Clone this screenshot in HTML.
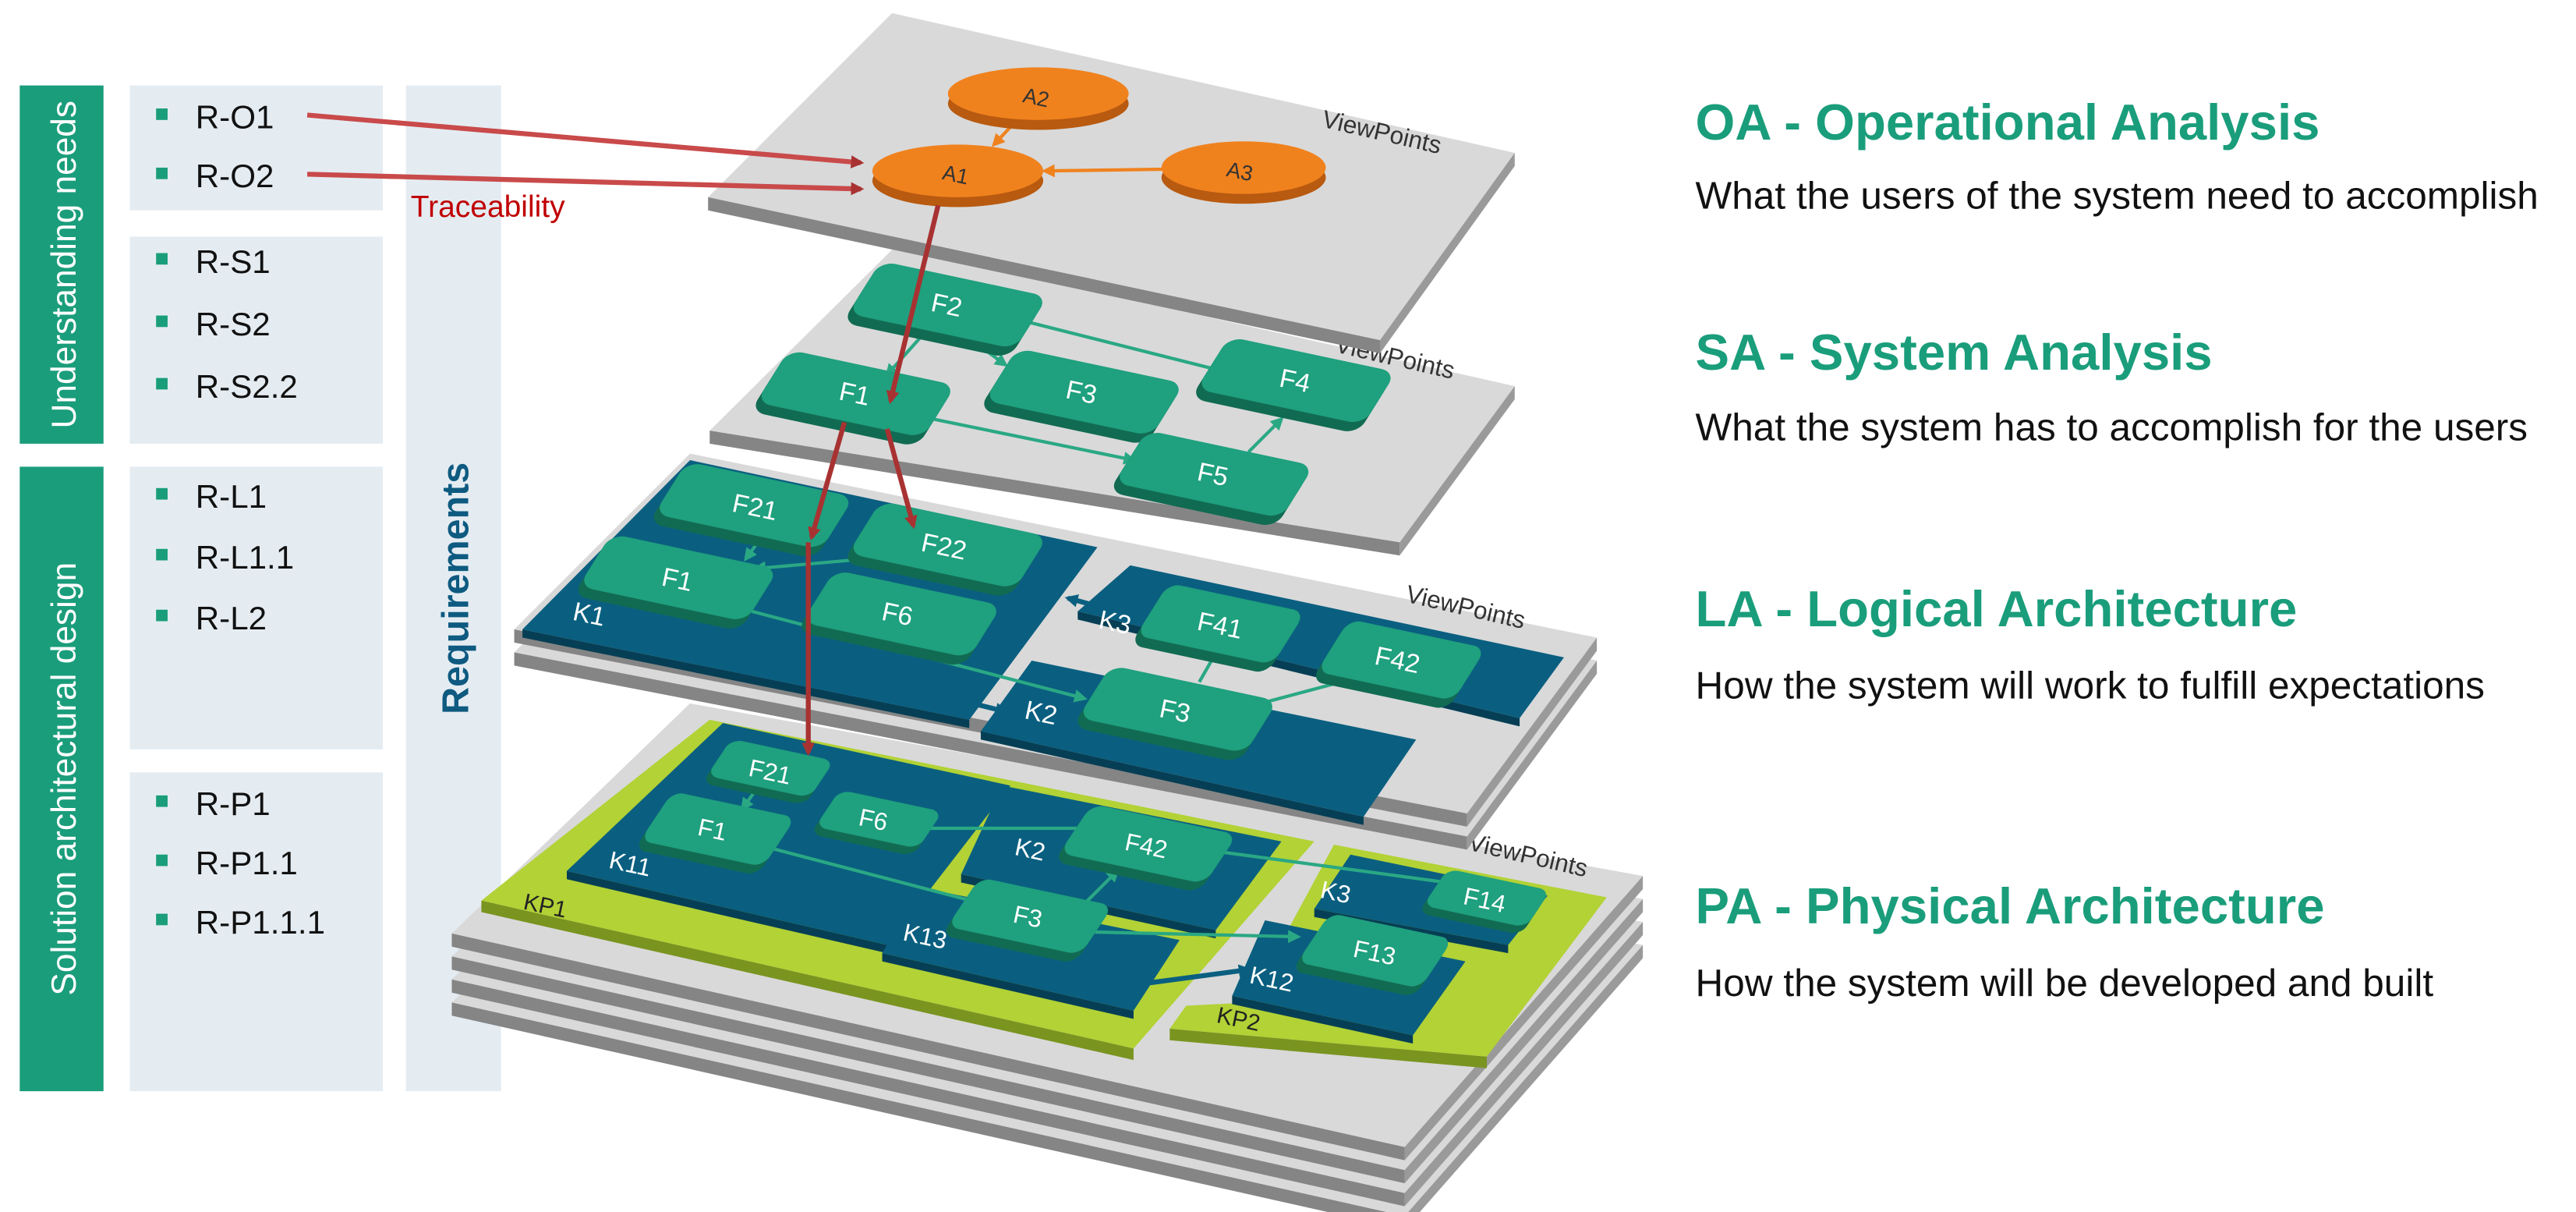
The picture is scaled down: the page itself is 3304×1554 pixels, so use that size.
<!DOCTYPE html>
<html><head><meta charset="utf-8"><style>
html,body{margin:0;padding:0;background:#fff;}
svg{display:block;}
text{font-family:"Liberation Sans",sans-serif;}
</style></head><body>
<svg width="3304" height="1554" viewBox="0 0 1568 737.5" xmlns="http://www.w3.org/2000/svg">
<defs>
<marker id="ar" markerWidth="8" markerHeight="8" refX="6" refY="4" orient="auto" markerUnits="userSpaceOnUse"><path d="M0,0 L8,4 L0,8 z" fill="#a83232"/></marker>
<marker id="at" markerWidth="8" markerHeight="8" refX="6" refY="4" orient="auto" markerUnits="userSpaceOnUse"><path d="M0,0 L8,4 L0,8 z" fill="#2aa884"/></marker>
<marker id="ao" markerWidth="8" markerHeight="8" refX="6" refY="4" orient="auto" markerUnits="userSpaceOnUse"><path d="M0,0 L8,4 L0,8 z" fill="#f0821e"/></marker>
<marker id="ab" markerWidth="8" markerHeight="8" refX="6" refY="4" orient="auto" markerUnits="userSpaceOnUse"><path d="M0,0 L8,4 L0,8 z" fill="#0a5f80"/></marker>
<g id="node"><rect x="-52" y="-18" width="104" height="40" rx="9" fill="#116b52" transform="translate(0,7)"/><rect x="-52" y="-18" width="104" height="40" rx="9" fill="#1fa07e"/></g>
<g id="nodes"><rect x="-32" y="-13" width="64" height="30" rx="7" fill="#116b52" transform="translate(0,6)"/><rect x="-32" y="-13" width="64" height="30" rx="7" fill="#1fa07e"/></g>
</defs>

<!-- Left panels -->
<rect x="12" y="52" width="51" height="218" fill="#1a9d7b"/>
<rect x="12" y="284" width="51" height="380" fill="#1a9d7b"/>
<text transform="translate(46,161) rotate(-90)" text-anchor="middle" font-size="21" fill="#fff">Understanding needs</text>
<text transform="translate(46,474) rotate(-90)" text-anchor="middle" font-size="21" fill="#fff">Solution architectural design</text>
<rect x="79" y="52" width="154" height="76" fill="#e4ecf2"/>
<rect x="79" y="144" width="154" height="126" fill="#e4ecf2"/>
<rect x="79" y="284" width="154" height="172" fill="#e4ecf2"/>
<rect x="79" y="470" width="154" height="194" fill="#e4ecf2"/>
<rect x="247" y="52" width="58" height="612" fill="#e4ecf2"/>
<text transform="translate(285,358) rotate(-90)" text-anchor="middle" font-size="23" font-weight="bold" fill="#0e5a80">Requirements</text>
<g font-size="20" fill="#111">
<g fill="#1a9d7b"><rect x="95" y="66" width="7" height="7"/><rect x="95" y="102" width="7" height="7"/><rect x="95" y="154" width="7" height="7"/><rect x="95" y="192" width="7" height="7"/><rect x="95" y="230" width="7" height="7"/><rect x="95" y="297" width="7" height="7"/><rect x="95" y="334" width="7" height="7"/><rect x="95" y="371" width="7" height="7"/><rect x="95" y="484" width="7" height="7"/><rect x="95" y="520" width="7" height="7"/><rect x="95" y="556" width="7" height="7"/></g>
<text x="119" y="78">R-O1</text><text x="119" y="114">R-O2</text>
<text x="119" y="166">R-S1</text><text x="119" y="204">R-S2</text><text x="119" y="242">R-S2.2</text>
<text x="119" y="309">R-L1</text><text x="119" y="346">R-L1.1</text><text x="119" y="383">R-L2</text>
<text x="119" y="496">R-P1</text><text x="119" y="532">R-P1.1</text><text x="119" y="568">R-P1.1.1</text>
</g>

<!-- PA plates -->
<g>
<polygon points="420,470 1000,575 855,740 275,610" fill="#d9d9d9"/>
<polygon points="275,610 855,740 855,748 275,618" fill="#858585"/><polygon points="855,740 1000,575 1000,583 855,748" fill="#9a9a9a"/>
<polygon points="420,456 1000,561 855,726 275,596" fill="#d9d9d9"/>
<polygon points="275,596 855,726 855,734 275,604" fill="#858585"/><polygon points="855,726 1000,561 1000,569 855,734" fill="#9a9a9a"/>
<polygon points="420,442 1000,547 855,712 275,582" fill="#d9d9d9"/>
<polygon points="275,582 855,712 855,720 275,590" fill="#858585"/><polygon points="855,712 1000,547 1000,555 855,720" fill="#9a9a9a"/>
<polygon points="420,428 1000,533 855,698 275,568" fill="#d9d9d9"/>
<polygon points="275,568 855,698 855,706 275,576" fill="#858585"/><polygon points="855,698 1000,533 1000,541 855,706" fill="#9a9a9a"/>
</g>
<polygon points="432,438 800,512 690,638 293,548" fill="#b2d235"/>
<polygon points="293,548 690,638 690,645 293,555" fill="#7a9420"/>
<polygon points="812,514 978,546 905,643 712,626 722,612 760,610" fill="#b2d235"/>
<polygon points="712,626 905,643 905,650 712,633" fill="#7a9420"/>
<polygon points="440,440 615,478 540,575 345,530" fill="#0a5f80"/><polygon points="345,530 540,575 540,580 345,535" fill="#063f55"/>
<polygon points="610,478 780,512 740,566 585,532" fill="#0a5f80"/><polygon points="585,532 740,566 740,571 585,537" fill="#063f55"/>
<polygon points="560,540 718,572 690,615 537,580" fill="#0a5f80"/><polygon points="537,580 690,615 690,620 537,585" fill="#063f55"/>
<polygon points="822,520 942,545 918,575 800,553" fill="#0a5f80"/><polygon points="800,553 918,575 918,580 800,558" fill="#063f55"/>
<polygon points="770,560 892,585 860,630 750,606" fill="#0a5f80"/><polygon points="750,606 860,630 860,635 750,611" fill="#063f55"/>
<g stroke="#2aa884" stroke-width="2" fill="none" marker-end="url(#at)">
<line x1="560" y1="504" x2="690" y2="504"/><line x1="465" y1="515" x2="610" y2="553"/><line x1="650" y1="560" x2="680" y2="530"/><line x1="660" y1="567" x2="790" y2="570"/><line x1="740" y1="518" x2="888" y2="538"/><line x1="462" y1="478" x2="452" y2="492"/>
</g>
<g stroke="#0a5f80" stroke-width="3" marker-end="url(#ab)"><line x1="700" y1="598" x2="760" y2="590"/></g>
<use href="#nodes" transform="matrix(0.978,0.208,-0.5,0.75,470,466)"/>
<use href="#node" transform="matrix(0.72,0.153,-0.5,0.75,438,503)"/>
<use href="#nodes" transform="matrix(0.978,0.208,-0.5,0.75,536,497)"/>
<use href="#node" transform="matrix(0.85,0.18,-0.5,0.75,700,512)"/>
<use href="#node" transform="matrix(0.78,0.166,-0.5,0.75,628,556)"/>
<use href="#nodes" transform="matrix(0.978,0.208,-0.5,0.75,906,545)"/>
<use href="#node" transform="matrix(0.72,0.153,-0.5,0.75,838,577)"/>
<g fill="#fff" font-size="15">
<text transform="translate(455,472) rotate(12)">F21</text>
<text transform="translate(424,508) rotate(12)">F1</text>
<text transform="translate(522,502) rotate(12)">F6</text>
<text transform="translate(684,517) rotate(12)">F42</text>
<text transform="translate(616,561) rotate(12)">F3</text>
<text transform="translate(890,550) rotate(12)">F14</text>
<text transform="translate(823,582) rotate(12)">F13</text>
<text transform="translate(370,528) rotate(12)">K11</text>
<text transform="translate(617,520) rotate(12)">K2</text>
<text transform="translate(549,572) rotate(12)">K13</text>
<text transform="translate(803,546) rotate(12)">K3</text>
<text transform="translate(760,598) rotate(12)">K12</text>
</g>
<text transform="translate(318,553) rotate(12)" font-size="14" fill="#222">KP1</text>
<text transform="translate(740,622) rotate(12)" font-size="14" fill="#222">KP2</text>
<text transform="translate(893,517) rotate(13)" font-size="15" fill="#333">ViewPoints</text>

<!-- LA plates -->
<polygon points="420,290 972,402 893,509 313,397" fill="#d9d9d9"/>
<polygon points="313,397 893,509 893,517 313,405" fill="#858585"/><polygon points="893,509 972,402 972,410 893,517" fill="#9a9a9a"/>
<polygon points="420,276 972,388 893,495 313,383" fill="#d9d9d9"/>
<polygon points="313,383 893,495 893,503 313,391" fill="#858585"/><polygon points="893,495 972,388 972,396 893,503" fill="#9a9a9a"/>
<polygon points="420,280 668,333 590,438 318,383" fill="#0a5f80"/><polygon points="318,383 590,438 590,443 318,388" fill="#063f55"/>
<polygon points="688,344 952,400 925,437 656,372" fill="#0a5f80"/><polygon points="656,372 925,437 925,442 656,377" fill="#063f55"/>
<polygon points="628,402 862,450 830,497 597,445" fill="#0a5f80"/><polygon points="597,445 830,497 830,502 597,450" fill="#063f55"/>
<g stroke="#2aa884" stroke-width="2" fill="none" marker-end="url(#at)">
<line x1="450" y1="370" x2="660" y2="425"/><line x1="528" y1="340" x2="460" y2="346"/><line x1="465" y1="325" x2="454" y2="340"/><line x1="730" y1="415" x2="742" y2="394"/><line x1="760" y1="430" x2="835" y2="410"/>
</g>
<g stroke="#0a5f80" stroke-width="3" marker-end="url(#ab)"><line x1="680" y1="372" x2="650" y2="364"/><line x1="580" y1="425" x2="612" y2="433"/></g>
<use href="#node" transform="matrix(0.978,0.208,-0.5,0.8,460,306)"/>
<use href="#node" transform="matrix(0.978,0.208,-0.5,0.8,578,330)"/>
<use href="#node" transform="matrix(0.978,0.208,-0.5,0.8,414,350)"/>
<use href="#node" transform="matrix(0.978,0.208,-0.5,0.8,550,372)"/>
<use href="#node" transform="matrix(0.8,0.17,-0.5,0.8,744,378)"/>
<use href="#node" transform="matrix(0.8,0.17,-0.5,0.8,854,400)"/>
<use href="#node" transform="matrix(0.978,0.208,-0.5,0.8,718,430)"/>
<g fill="#fff" font-size="16">
<text transform="translate(445,311) rotate(12)">F21</text>
<text transform="translate(560,335) rotate(12)">F22</text>
<text transform="translate(402,356) rotate(12)">F1</text>
<text transform="translate(536,377) rotate(12)">F6</text>
<text transform="translate(728,383) rotate(12)">F41</text>
<text transform="translate(836,404) rotate(12)">F42</text>
<text transform="translate(705,436) rotate(12)">F3</text>
<text transform="translate(348,377) rotate(12)">K1</text>
<text transform="translate(668,382) rotate(12)">K3</text>
<text transform="translate(623,437) rotate(12)">K2</text>
</g>
<text transform="translate(855,366) rotate(13)" font-size="15" fill="#333">ViewPoints</text>

<!-- SA plate -->
<polygon points="545,150 922,235 852,330 432,262" fill="#d9d9d9"/>
<polygon points="432,262 852,330 852,338 432,270" fill="#858585"/><polygon points="852,330 922,235 922,243 852,338" fill="#9a9a9a"/>
<g stroke="#2aa884" stroke-width="2" fill="none" marker-end="url(#at)">
<line x1="610" y1="192" x2="745" y2="226"/><line x1="582" y1="200" x2="612" y2="222"/><line x1="565" y1="200" x2="540" y2="228"/><line x1="568" y1="255" x2="690" y2="280"/><line x1="760" y1="275" x2="780" y2="255"/>
</g>
<use href="#node" transform="matrix(0.978,0.208,-0.5,0.8,578,184)"/>
<use href="#node" transform="matrix(0.978,0.208,-0.5,0.8,522,238)"/>
<use href="#node" transform="matrix(0.978,0.208,-0.5,0.8,661,237)"/>
<use href="#node" transform="matrix(0.978,0.208,-0.5,0.8,790,230)"/>
<use href="#node" transform="matrix(0.978,0.208,-0.5,0.8,740,287)"/>
<g fill="#fff" font-size="16">
<text transform="translate(566,189) rotate(12)">F2</text>
<text transform="translate(510,243) rotate(12)">F1</text>
<text transform="translate(648,242) rotate(12)">F3</text>
<text transform="translate(778,235) rotate(12)">F4</text>
<text transform="translate(728,292) rotate(12)">F5</text>
</g>
<text transform="translate(812,214) rotate(13)" font-size="15" fill="#333">ViewPoints</text>

<!-- OA plate -->
<polygon points="543,8 922,93 840,207 431,120" fill="#d9d9d9"/>
<polygon points="431,120 840,207 840,215 431,128" fill="#858585"/><polygon points="840,207 922,93 922,101 840,215" fill="#9a9a9a"/>
<g stroke="#f0821e" stroke-width="2" marker-end="url(#ao)"><line x1="620" y1="72" x2="605" y2="88"/><line x1="708" y1="103" x2="636" y2="104"/></g>
<ellipse cx="632" cy="63" rx="55" ry="16" fill="#b85a10"/><ellipse cx="632" cy="57" rx="55" ry="16" fill="#f0821e"/>
<ellipse cx="583" cy="110" rx="52" ry="16" fill="#b85a10"/><ellipse cx="583" cy="104" rx="52" ry="16" fill="#f0821e"/>
<ellipse cx="757" cy="108" rx="50" ry="16" fill="#b85a10"/><ellipse cx="757" cy="102" rx="50" ry="16" fill="#f0821e"/>
<g font-size="13" fill="#333"><text transform="translate(622,62) rotate(12)">A2</text><text transform="translate(573,109) rotate(12)">A1</text><text transform="translate(746,107) rotate(12)">A3</text></g>
<text transform="translate(804,77) rotate(13)" font-size="15" fill="#333">ViewPoints</text>

<g stroke="#c94a4a" stroke-width="3" fill="none">
<line x1="187" y1="70" x2="524" y2="99" marker-end="url(#ar)"/>
<line x1="187" y1="106" x2="524" y2="115" marker-end="url(#ar)"/>
</g>
<g stroke="#a83232" stroke-width="3" fill="none" marker-end="url(#ar)">
<line x1="571" y1="125" x2="542" y2="244"/>
<line x1="514" y1="257" x2="494" y2="327"/>
<line x1="540" y1="261" x2="556" y2="320"/>
<line x1="492" y1="330" x2="492" y2="458"/>
</g>
<text x="250" y="132" font-size="18.5" fill="#c00000">Traceability</text>

<g font-size="31" font-weight="bold" fill="#1a9d7b">
<text x="1032" y="85">OA - Operational Analysis</text>
<text x="1032" y="225">SA - System Analysis</text>
<text x="1032" y="381">LA - Logical Architecture</text>
<text x="1032" y="562">PA - Physical Architecture</text>
</g>
<g font-size="23.5" fill="#111">
<text x="1032" y="127">What the users of the system need to accomplish</text>
<text x="1032" y="268">What the system has to accomplish for the users</text>
<text x="1032" y="425">How the system will work to fulfill expectations</text>
<text x="1032" y="606">How the system will be developed and built</text>
</g>
</svg>
</body></html>
